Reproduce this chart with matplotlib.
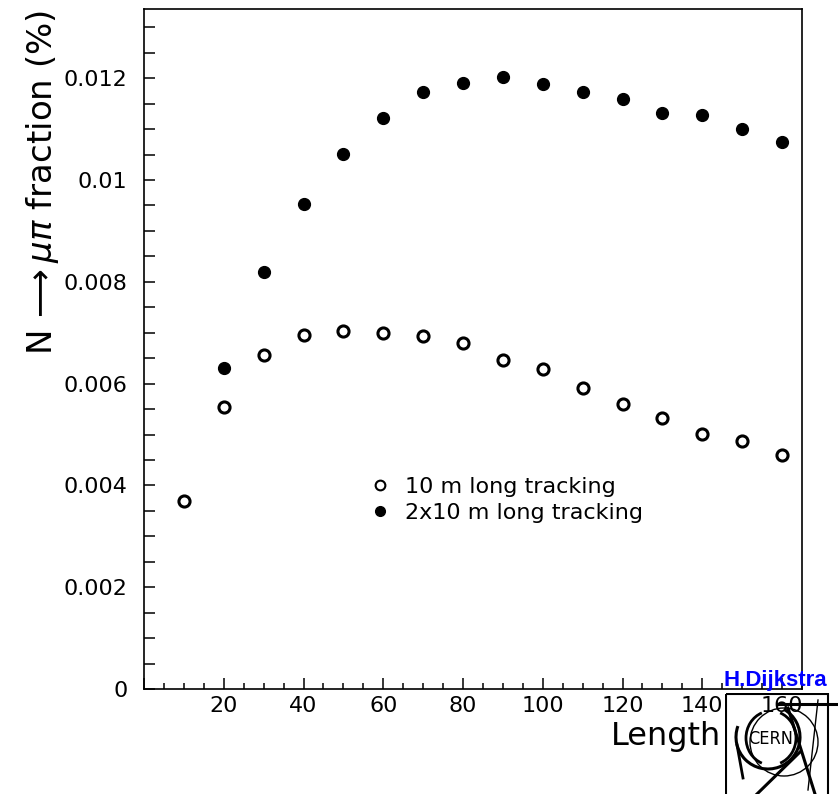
import numpy as np
import matplotlib
matplotlib.use("Agg")
import matplotlib.pyplot as plt
from matplotlib.ticker import MultipleLocator, FuncFormatter
from matplotlib.lines import Line2D
from matplotlib.patches import Rectangle, Circle, Arc

# values
length = [10, 20, 30, 40, 50, 60, 70, 80, 90, 100, 110, 120, 130, 140, 150, 160]
frac_10m = [0.00369, 0.00554, 0.00657, 0.00696, 0.00703, 0.00699, 0.00694, 0.00680,
            0.00647, 0.00629, 0.00592, 0.00560, 0.00533, 0.00501, 0.00487, 0.00460]
length_2x = [20, 30, 40, 50, 60, 70, 80, 90, 100, 110, 120, 130, 140, 150, 160]
frac_2x10m = [0.00630, 0.00820, 0.00953, 0.01051, 0.01121, 0.01173, 0.01191, 0.01202,
              0.01189, 0.01172, 0.01159, 0.01132, 0.01128, 0.01101, 0.01075]

W, H = 838, 794
fig = plt.figure(figsize=(W / 100, H / 100), dpi=100)
ax = fig.add_axes([144 / W, 1 - 689 / H, (802 - 144) / W, (689 - 9) / H])

ax.plot(length, frac_10m, linestyle="none", marker="o", markersize=8,
        markerfacecolor="white", markeredgecolor="black", markeredgewidth=2.2)
ax.plot(length_2x, frac_2x10m, linestyle="none", marker="o", markersize=8.5,
        markerfacecolor="black", markeredgecolor="black")

ax.set_xlim(0, 165)
ax.set_ylim(0, 0.01336)
ax.xaxis.set_major_locator(MultipleLocator(20))
ax.xaxis.set_minor_locator(MultipleLocator(5))
ax.yaxis.set_major_locator(MultipleLocator(0.002))
ax.yaxis.set_minor_locator(MultipleLocator(0.0005))
ax.xaxis.set_major_formatter(FuncFormatter(lambda v, p: "" if v == 0 else f"{v:g}"))
ax.yaxis.set_major_formatter(FuncFormatter(lambda v, p: f"{v:g}"))

ax.tick_params(which="both", direction="in", top=False, right=False, width=1.1,
               labelsize=16)
ax.tick_params(axis="x", which="major", length=8, pad=5)
ax.tick_params(axis="x", which="minor", length=4.5)
ax.tick_params(axis="y", which="both", length=8, pad=12)
for s in ax.spines.values():
    s.set_linewidth(1.2)

h1 = Line2D([], [], linestyle="none", marker="o", markersize=7,
            markerfacecolor="white", markeredgecolor="black", markeredgewidth=1.5)
h2 = Line2D([], [], linestyle="none", marker="o", markersize=7,
            markerfacecolor="black", markeredgecolor="black")
fig.legend([h1, h2], ["10 m long tracking", "2x10 m long tracking"],
           loc="upper left", bbox_to_anchor=(369 / W, 1 - 477 / H),
           frameon=False, fontsize=16, handlelength=1.0, handletextpad=0.6,
           labelspacing=0.25, borderpad=0, borderaxespad=0)

fig.text(611 / W, 1 - 745 / H, "Length", fontsize=23, ha="left", va="baseline")
fig.text(43 / W, 1 - 10 / H, r"N$\,\longrightarrow\mu\pi$ fraction (%)",
         fontsize=24.5, rotation=90, ha="center", va="top")
fig.text(775 / W, 1 - 686 / H, "H.Dijkstra", color="#0000ff", fontsize=16,
         fontweight="bold", family="Liberation Sans", ha="center", va="baseline")

# CERN logo stamp in the bottom right corner (pixel coordinates)
lg = fig.add_axes([725 / W, 0, (W - 725) / W, (794 - 693) / H], zorder=5)
lg.set_xlim(725, W)
lg.set_ylim(794, 693)
lg.axis("off")
lg.patch.set_alpha(0)
lg.add_patch(Rectangle((725.5, 693.5), 102, 102, facecolor="none",
                       edgecolor="black", linewidth=1.5))
lg.plot([778, 838], [704, 704], color="black", linewidth=2.2)
lg.add_patch(Circle((784, 742), 34, facecolor="none", edgecolor="black", linewidth=1.0))
lg.add_patch(Arc((768, 737), 64, 64, theta1=-60, theta2=200, color="black", linewidth=2.2))
lg.add_patch(Arc((771, 738), 50, 54, theta1=110, theta2=250, color="black", linewidth=2.0))
lg.add_patch(Arc((771, 738), 50, 54, theta1=-70, theta2=70, color="black", linewidth=2.0))
lg.text(771, 739, "CERN", fontsize=13, ha="center", va="center",
        family="DejaVu Sans", fontstretch="condensed")
lg.plot([743, 737], [778, 745], color="black", linewidth=2)
lg.plot([757, 800], [794, 752], color="black", linewidth=2.2)
lg.plot([788, 815], [708, 794], color="black", linewidth=2.2)
lg.plot([818, 808], [700, 790], color="black", linewidth=1.0)

fig.savefig("out.png", dpi=100)
